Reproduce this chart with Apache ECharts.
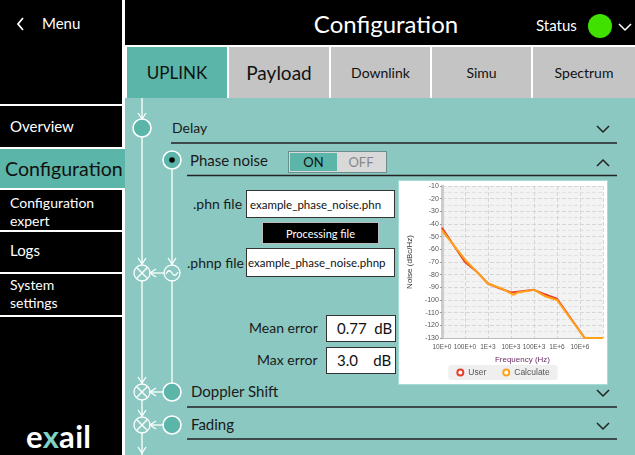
<!DOCTYPE html>
<html lang="en">
<head>
<meta charset="UTF-8">
<script src="https://cdn.jsdelivr.net/npm/echarts@6/dist/echarts.min.js"></script>
<title>Configuration - Phase noise</title>
<style>
  body { margin: 0; width: 635px; height: 455px; position: relative; overflow: hidden; background: #fff; font-family: Lato, "Noto Sans", sans-serif; }
  .abs { position: absolute; box-sizing: border-box; }
  .blk { background: #000; color: #fff; }
  .tab { background: #c4c4c4; color: #111; display: flex; align-items: center; justify-content: center; }
  .txt { position: absolute; white-space: nowrap; line-height: 1; }
  .box { background: #fff; border: 1px solid #333; }
</style>
</head>
<body>
<!-- left menu -->
<div class="abs blk" style="left:0;top:0;width:122px;height:104px;"></div>
<div class="txt" style="left:42px;top:16px;color:#fff;font-size:15px;">Menu</div>
<div class="abs blk" style="left:0;top:106px;width:122px;height:41px;"></div>
<div class="txt" style="left:10px;top:119px;color:#fff;font-size:15px;">Overview</div>
<div class="abs" style="left:0;top:149px;width:125px;height:39px;background:#5bb5a8;"></div>
<div class="txt" style="left:5px;top:159px;color:#111;font-size:19.6px;">Configuration</div>
<div class="abs blk" style="left:0;top:190px;width:122px;height:40px;"></div>
<div class="txt" style="left:10px;top:194px;color:#fff;font-size:14px;line-height:18px;">Configuration<br>expert</div>
<div class="abs blk" style="left:0;top:232px;width:122px;height:40px;"></div>
<div class="txt" style="left:10px;top:243px;color:#fff;font-size:15px;">Logs</div>
<div class="abs blk" style="left:0;top:274px;width:122px;height:41px;"></div>
<div class="txt" style="left:10px;top:276px;color:#fff;font-size:14px;line-height:18px;">System<br>settings</div>
<div class="abs blk" style="left:0;top:317px;width:122px;height:138px;"></div>
<div class="txt" style="left:26px;top:421px;color:#fff;font-size:31px;font-weight:bold;letter-spacing:0.3px;">e<span style="color:#7fd3c6;">x</span>ail</div>

<!-- header -->
<div class="abs blk" style="left:125px;top:0;width:510px;height:45px;"></div>
<div class="txt" style="left:125px;width:522px;top:12px;text-align:center;color:#fff;font-size:24px;">Configuration</div>
<div class="txt" style="left:536px;top:18px;color:#fff;font-size:15px;">Status</div>
<div class="abs" style="left:588px;top:14px;width:24px;height:24px;border-radius:50%;background:#40e000;"></div>

<!-- tabs -->
<div class="abs tab" style="left:127px;top:47px;width:100px;height:51px;background:#5bb5a8;font-size:17px;">UPLINK</div>
<div class="abs tab" style="left:229px;top:47px;width:100px;height:51px;font-size:19px;">Payload</div>
<div class="abs tab" style="left:331px;top:47px;width:99px;height:51px;font-size:14px;">Downlink</div>
<div class="abs tab" style="left:432px;top:47px;width:99px;height:51px;font-size:14px;">Simu</div>
<div class="abs tab" style="left:533px;top:47px;width:102px;height:51px;font-size:14px;">Spectrum</div>

<!-- main teal panel -->
<div class="abs" style="left:125px;top:98px;width:510px;height:357px;background:#8ac8c1;"></div>

<!-- flow diagram and dividers -->
<svg class="abs" style="left:0;top:0;" width="635" height="455" fill="none">
  <polyline points="23,18 18,24 23,30" stroke="#fff" stroke-width="1.8"/>
  <g stroke="#fff" stroke-width="1.3">
    <line x1="142" y1="98" x2="142" y2="119"/><polyline points="138,113 142,119 146,113"/>
    <line x1="142" y1="137" x2="142" y2="264"/><polyline points="138,258 142,264 146,258"/>
    <line x1="172" y1="169" x2="172" y2="264"/><polyline points="168,258 172,264 176,258"/>
    <line x1="164" y1="273" x2="150" y2="273"/><polyline points="156,269 150,273 156,277"/>
    <line x1="142" y1="281" x2="142" y2="383"/><polyline points="138,377 142,383 146,377"/>
    <line x1="172" y1="281" x2="172" y2="383"/>
    <line x1="163" y1="392" x2="150" y2="392"/><polyline points="156,388 150,392 156,396"/>
    <line x1="142" y1="400" x2="142" y2="416"/><polyline points="138,410 142,416 146,410"/>
    <line x1="163" y1="425" x2="150" y2="425"/><polyline points="156,421 150,425 156,429"/>
    <line x1="142" y1="433" x2="142" y2="455"/><polyline points="138,447 142,453 146,447"/>
    <circle cx="142" cy="273" r="8"/><line x1="136.3" y1="267.3" x2="147.7" y2="278.7"/><line x1="147.7" y1="267.3" x2="136.3" y2="278.7"/>
    <circle cx="142" cy="392" r="8"/><line x1="136.3" y1="386.3" x2="147.7" y2="397.7"/><line x1="147.7" y1="386.3" x2="136.3" y2="397.7"/>
    <circle cx="142" cy="425" r="8"/><line x1="136.3" y1="419.3" x2="147.7" y2="430.7"/><line x1="147.7" y1="419.3" x2="136.3" y2="430.7"/>
    <circle cx="172" cy="273" r="8"/><path d="M166 274 Q169 268 172 273 T178 272"/>
    <circle cx="142" cy="128" r="9" fill="#5bb5a8" stroke-width="1.6"/>
    <circle cx="172" cy="160" r="9" fill="#5bb5a8" stroke-width="1.6"/>
    <circle cx="172" cy="392" r="9" fill="#5bb5a8" stroke-width="1.6"/>
    <circle cx="172" cy="425" r="9" fill="#5bb5a8" stroke-width="1.6"/>
  </g>
  <circle cx="172" cy="160" r="2.8" fill="#000"/>
  <g stroke="#222" stroke-width="1.5">
    <line x1="171" y1="143" x2="617" y2="143"/>
    <line x1="187" y1="175.5" x2="617" y2="175.5"/>
    <line x1="187" y1="407" x2="617" y2="407"/>
    <line x1="187" y1="439" x2="617" y2="439"/>
    <polyline points="597,126 603,132 609,126"/>
    <polyline points="597,166 603,160 609,166"/>
    <polyline points="597,390 603,396 609,390"/>
    <polyline points="597,423 603,429 609,423"/>
  </g>
  <polyline points="619,24 625,30 631,24" stroke="#fff" stroke-width="1.5"/>
</svg>

<!-- section texts -->
<div class="txt" style="left:172px;top:121px;color:#1a1a1a;font-size:14px;">Delay</div>
<div class="txt" style="left:190px;top:153px;color:#1a1a1a;font-size:15px;">Phase noise</div>
<div class="abs" style="left:288px;top:151px;width:99px;height:22px;border:1px solid #6a8f8b;background:#d9d9d9;"></div>
<div class="abs" style="left:290px;top:153px;width:47px;height:18px;background:#5bb5a8;color:#111;font-size:13px;display:flex;align-items:center;justify-content:center;">ON</div>
<div class="abs" style="left:337px;top:153px;width:48px;height:18px;color:#888;font-size:13px;display:flex;align-items:center;justify-content:center;">OFF</div>

<div class="txt" style="left:193px;top:197px;color:#1a1a1a;font-size:14px;">.phn file</div>
<div class="abs box" style="left:246px;top:190px;width:149px;height:28px;"></div>
<div class="txt" style="left:250px;top:199px;color:#111;font-size:11.5px;">example_phase_noise.phn</div>
<div class="abs" style="left:262px;top:222px;width:117px;height:22px;background:#000;border:1px solid #bbb;color:#fff;font-size:11px;display:flex;align-items:center;justify-content:center;">Processing file</div>
<div class="txt" style="left:187px;top:256px;color:#1a1a1a;font-size:14px;">.phnp file</div>
<div class="abs box" style="left:246px;top:248px;width:149px;height:29px;"></div>
<div class="txt" style="left:248px;top:257px;color:#111;font-size:11.5px;">example_phase_noise.phnp</div>

<div class="txt" style="left:249px;top:321px;color:#1a1a1a;font-size:14px;">Mean error</div>
<div class="abs box" style="left:326px;top:315px;width:70px;height:27px;"></div>
<div class="txt" style="left:337px;top:321px;color:#111;font-size:15px;">0.77&nbsp;&nbsp;dB</div>
<div class="txt" style="left:257px;top:353px;color:#1a1a1a;font-size:14px;">Max error</div>
<div class="abs box" style="left:326px;top:347px;width:70px;height:27px;"></div>
<div class="txt" style="left:337px;top:353px;color:#111;font-size:15px;">3.0&nbsp;&nbsp;&nbsp;&nbsp;dB</div>

<div class="txt" style="left:191px;top:384px;color:#1a1a1a;font-size:15px;">Doppler Shift</div>
<div class="txt" style="left:191px;top:417px;color:#1a1a1a;font-size:15px;">Fading</div>

<!-- chart card -->
<div class="abs" style="left:398px;top:180px;width:210px;height:205px;background:#fff;border:1px solid #a6dcd4;"></div>
<div id="chart" class="abs" style="left:398px;top:180px;width:210px;height:205px;"></div>

<script>
// frequency (Hz) and noise (dBc/Hz)
const userFreq  = [10, 100, 300, 1000, 3000, 10000, 30000, 100000, 250000, 1000000, 16000000, 100000000];
const userNoise = [-43, -70, -77, -87, -90.5, -94, -93, -92, -95, -99, -130, -130];
const calcFreq  = [10, 100, 300, 1000, 4000, 13000, 20000, 100000, 300000, 1000000, 16000000, 100000000];
const calcNoise = [-45, -68, -77, -87, -91, -96, -94, -92, -97, -100, -130, -130];
// one label per decade, starting at 10 Hz
const xTickLabels = ['10E+0', '100E+0', '1E+3', '10E+3', '100E+3', '1E+6', '10E+6', ''];

const pairs = (xs, ys) => xs.map((x, i) => [x, ys[i]]);

const chart = echarts.init(document.getElementById('chart'));
const tickFont = { fontFamily: 'Liberation Sans', fontSize: 6.5, color: '#555' };
chart.setOption({
  animation: false,
  textStyle: { fontFamily: 'Liberation Sans' },
  grid: { left: 33, right: 5, top: 6, bottom: 47, show: true, backgroundColor: '#f3f3f3', borderWidth: 0 },
  legend: {
    bottom: 5,
    left: 'center',
    data: [{ name: 'User', icon: 'emptyCircle' }, { name: 'Calculate', icon: 'emptyCircle' }],
    itemWidth: 6, itemHeight: 6, itemGap: 16,
    backgroundColor: '#efefef', borderRadius: 3, padding: [3, 8],
    textStyle: { fontSize: 8.5, color: '#555' }
  },
  xAxis: {
    type: 'log', logBase: 10, min: 10, max: 100000000,
    name: 'Frequency (Hz)', nameLocation: 'middle', nameGap: 17,
    nameTextStyle: { fontSize: 8, color: '#6b2d62' },
    axisLine: { lineStyle: { color: '#bbb' } },
    axisTick: { show: false },
    axisLabel: Object.assign({ margin: 6, showMinLabel: true, formatter: v => xTickLabels[Math.round(Math.log10(v)) - 1] || '' }, tickFont),
    splitLine: { show: true, lineStyle: { color: '#d6d6d6', type: 'dashed' } }
  },
  yAxis: {
    type: 'value', min: -130, max: -10, interval: 10,
    name: 'Noise (dBc/Hz)', nameLocation: 'middle', nameGap: 23,
    nameTextStyle: { fontSize: 8, color: '#333' },
    axisLine: { show: true, lineStyle: { color: '#ccc', width: 3 } },
    axisTick: { show: true, length: 2, lineStyle: { color: '#999' } },
    axisLabel: Object.assign({ margin: 3, showMinLabel: true, showMaxLabel: true }, tickFont, { fontSize: 7 }),
    splitLine: { show: true, lineStyle: { color: '#d6d6d6', type: 'dashed' } },
    minorTick: { show: false, splitNumber: 2 },
    minorSplitLine: { show: true, lineStyle: { color: '#e2e2e2', type: 'dashed' } }
  },
  series: [
    { name: 'User', type: 'line', data: pairs(userFreq, userNoise), showSymbol: false,
      itemStyle: { color: '#e8402a' }, lineStyle: { width: 2 } },
    { name: 'Calculate', type: 'line', data: pairs(calcFreq, calcNoise), showSymbol: false,
      itemStyle: { color: '#ffa21a' }, lineStyle: { width: 2 } }
  ]
});
</script>
</body>
</html>
